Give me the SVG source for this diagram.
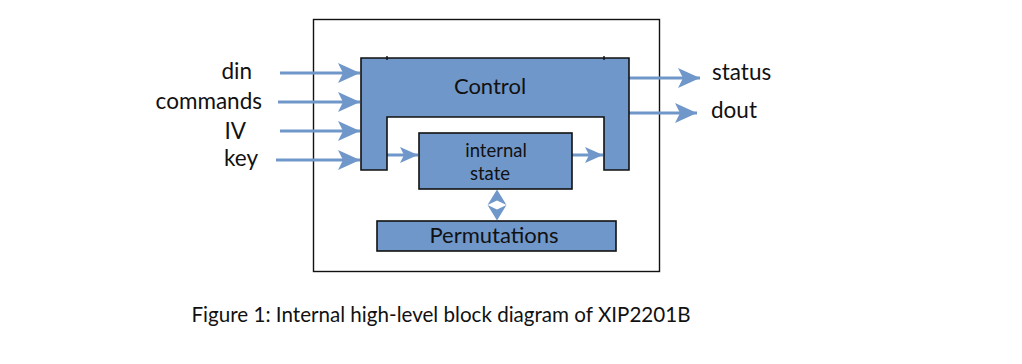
<svg xmlns="http://www.w3.org/2000/svg" width="1022" height="364" viewBox="0 0 1022 364">
<style>
.box{fill:#7097c9;stroke:#111;stroke-width:1.6}
.frame{fill:none;stroke:#111;stroke-width:1.4}
.conn{stroke:#7097c9;stroke-width:3;fill:none}
.head{fill:#7097c9}
text{font-family:Lato,"Open Sans","DejaVu Sans",sans-serif;fill:#111}
.lbl{font-size:22.5px}
</style>
<defs>
<marker id="ah" markerUnits="userSpaceOnUse" markerWidth="24" markerHeight="22" viewBox="0 0 24 22" refX="22" refY="11" orient="auto">
<path d="M0,1 L22,11 L0,21 L5,11 Z" fill="#7097c9"/>
</marker>
<marker id="ahs" markerUnits="userSpaceOnUse" markerWidth="20" markerHeight="18" viewBox="0 0 20 18" refX="18" refY="9" orient="auto-start-reverse">
<path d="M0,1 L18,9 L0,17 L4,9 Z" fill="#7097c9"/>
</marker>
</defs>
<rect class="frame" x="313.5" y="19.5" width="346" height="252"/>
<g id="connectors">
<line class="conn" x1="280" y1="73" x2="360" y2="73" marker-end="url(#ah)"/>
<line class="conn" x1="278" y1="102" x2="360" y2="102" marker-end="url(#ah)"/>
<line class="conn" x1="280" y1="131" x2="360" y2="131" marker-end="url(#ah)"/>
<line class="conn" x1="276" y1="160" x2="360" y2="160" marker-end="url(#ah)"/>
<line class="conn" x1="629" y1="78" x2="700" y2="78" marker-end="url(#ah)"/>
<line class="conn" x1="629" y1="113" x2="697" y2="113" marker-end="url(#ah)"/>
<line class="conn" x1="387" y1="155" x2="418" y2="155" marker-end="url(#ahs)"/>
<line class="conn" x1="572" y1="155" x2="603" y2="155" marker-end="url(#ahs)"/>
<path class="head" d="M497,189.5 L506.5,205 L497,200.5 L487.5,205 Z"/>
<path class="head" d="M497,220.5 L506.5,205 L497,209.5 L487.5,205 Z"/>
</g>
<g id="control">
<path class="box" d="M361,58 H629 V170 H604 V117 H387 V170 H361 Z"/>
<line x1="387" y1="56" x2="387" y2="60" stroke="#111" stroke-width="1.4"/>
<line x1="604" y1="56" x2="604" y2="60" stroke="#111" stroke-width="1.4"/>
<text x="490" y="94" font-size="22" text-anchor="middle">Control</text>
</g>
<g id="internal-state">
<rect class="box" x="419" y="133" width="153" height="56"/>
<text x="496" y="157" font-size="18.5" text-anchor="middle">internal</text>
<text x="490" y="180" font-size="18.5" text-anchor="middle">state</text>
</g>
<g id="permutations">
<rect class="box" x="377" y="221" width="239" height="30"/>
<text x="494" y="243" font-size="22" text-anchor="middle">Permutations</text>
</g>
<g id="inputs">
<text class="lbl" x="252" y="79" text-anchor="end">din</text>
<text class="lbl" x="262" y="109" text-anchor="end">commands</text>
<text class="lbl" x="246" y="139" text-anchor="end">IV</text>
<text class="lbl" x="258" y="166" text-anchor="end">key</text>
</g>
<g id="outputs">
<text class="lbl" x="712" y="80">status</text>
<text class="lbl" x="711" y="118">dout</text>
</g>
<text x="441" y="322" font-size="20.6" text-anchor="middle">Figure 1: Internal high-level block diagram of XIP2201B</text>
</svg>
